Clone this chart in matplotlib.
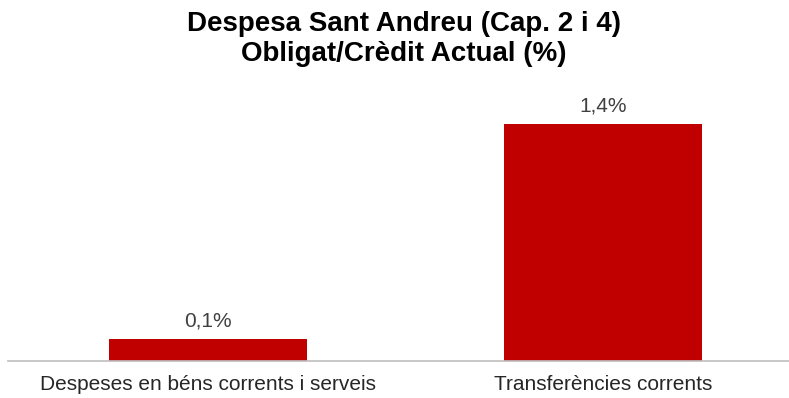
import matplotlib.pyplot as plt

categories = ['Despeses en béns corrents i serveis', 'Transferències corrents']
values = [0.13, 1.40]
labels = ['0,1%', '1,4%']

plt.rcParams['font.family'] = ['Liberation Sans', 'DejaVu Sans']

fig = plt.figure(figsize=(7.89, 3.98), dpi=100)
ax = fig.add_axes([8/789, 37/398, 781/789, 261/398])

x = list(range(len(categories)))
bars = ax.bar(x, values, width=0.5, color='#C00000')
for xi, v, lab in zip(x, values, labels):
    ax.text(xi, v + 0.05, lab, ha='center', va='bottom', fontsize=15, color='#404040')

ax.set_xlim(-0.506, 1.471)
ax.set_ylim(0, 261/169)
ax.set_xticks(x)
ax.set_xticklabels(categories, fontsize=15, color='#262626')
ax.tick_params(axis='x', length=0, pad=10)
ax.set_yticks([])
for s in ['top', 'left', 'right']:
    ax.spines[s].set_visible(False)
ax.spines['bottom'].set_color('#BFBFBF')
ax.spines['bottom'].set_linewidth(1.2)

fig.text(404/789, 1 - 39/398, 'Despesa Sant Andreu (Cap. 2 i 4)\nObligat/Crèdit Actual (%)',
         ha='center', va='center', fontsize=20, fontweight='bold', linespacing=1.22)

fig.savefig('out.png', dpi=100)
